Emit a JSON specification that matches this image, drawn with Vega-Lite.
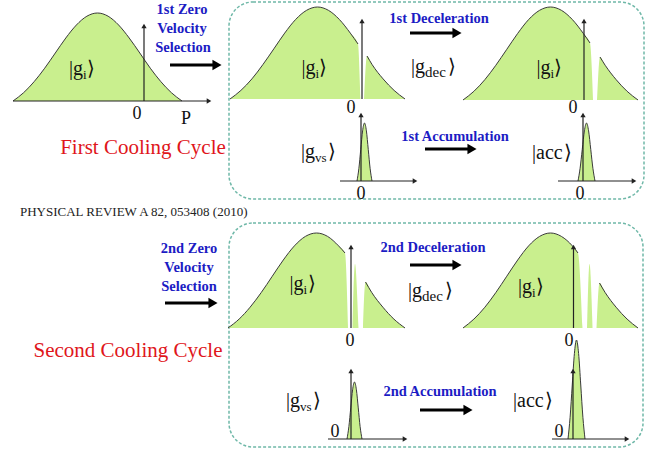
{
  "$schema": "https://vega.github.io/schema/vega-lite/v6.json",
  "width": 660,
  "height": 450,
  "autosize": {"type": "fit", "contains": "padding"},
  "padding": 0,
  "background": "white",
  "config": {"view": {"stroke": null}},
  "datasets": {
    "boxes": [
      {"x": 229, "y": 2, "x2": 644, "y2": 199},
      {"x": 229, "y": 223, "x2": 643, "y2": 447}
    ],
    "curves": [
      {"id": "A", "x": 13, "y": 101, "b": 101, "k": "c"},
      {"id": "A", "x": 23.6, "y": 92.7, "b": 101, "k": "c"},
      {"id": "A", "x": 34.1, "y": 81.7, "b": 101, "k": "c"},
      {"id": "A", "x": 44.7, "y": 68.2, "b": 101, "k": "c"},
      {"id": "A", "x": 55.3, "y": 53, "b": 101, "k": "c"},
      {"id": "A", "x": 65.8, "y": 38, "b": 101, "k": "c"},
      {"id": "A", "x": 76.4, "y": 25, "b": 101, "k": "c"},
      {"id": "A", "x": 86.9, "y": 16.2, "b": 101, "k": "c"},
      {"id": "A", "x": 97.5, "y": 13, "b": 101, "k": "c"},
      {"id": "A", "x": 108.1, "y": 16.2, "b": 101, "k": "c"},
      {"id": "A", "x": 118.6, "y": 25, "b": 101, "k": "c"},
      {"id": "A", "x": 129.2, "y": 38, "b": 101, "k": "c"},
      {"id": "A", "x": 139.8, "y": 53, "b": 101, "k": "c"},
      {"id": "A", "x": 150.3, "y": 68.2, "b": 101, "k": "c"},
      {"id": "A", "x": 160.9, "y": 81.7, "b": 101, "k": "c"},
      {"id": "A", "x": 171.4, "y": 92.7, "b": 101, "k": "c"},
      {"id": "A", "x": 182, "y": 101, "b": 101, "k": "c"},

      {"id": "B1", "x": 230, "y": 99, "b": 99, "k": "c"},
      {"id": "B1", "x": 240.9, "y": 90.4, "b": 99, "k": "c"},
      {"id": "B1", "x": 251.9, "y": 78.9, "b": 99, "k": "c"},
      {"id": "B1", "x": 262.8, "y": 64.7, "b": 99, "k": "c"},
      {"id": "B1", "x": 273.8, "y": 48.9, "b": 99, "k": "c"},
      {"id": "B1", "x": 284.7, "y": 33.1, "b": 99, "k": "c"},
      {"id": "B1", "x": 295.6, "y": 19.5, "b": 99, "k": "c"},
      {"id": "B1", "x": 306.6, "y": 10.3, "b": 99, "k": "c"},
      {"id": "B1", "x": 317.5, "y": 7, "b": 99, "k": "c"},
      {"id": "B1", "x": 328.4, "y": 10.3, "b": 99, "k": "c"},
      {"id": "B1", "x": 339.4, "y": 19.5, "b": 99, "k": "c"},
      {"id": "B1", "x": 350.3, "y": 33.1, "b": 99, "k": "c"},
      {"id": "B1", "x": 358, "y": 44, "b": 99, "k": "c"},
      {"id": "B1", "x": 360.5, "y": 99, "b": 99, "k": "x"},
      {"id": "B2", "x": 364, "y": 99, "b": 99, "k": "x"},
      {"id": "B2", "x": 367, "y": 56, "b": 99, "k": "c"},
      {"id": "B2", "x": 372.2, "y": 64.7, "b": 99, "k": "c"},
      {"id": "B2", "x": 383.1, "y": 78.9, "b": 99, "k": "c"},
      {"id": "B2", "x": 394.1, "y": 90.4, "b": 99, "k": "c"},
      {"id": "B2", "x": 405, "y": 99, "b": 99, "k": "c"},

      {"id": "C1", "x": 463, "y": 100, "b": 100, "k": "c"},
      {"id": "C1", "x": 473.9, "y": 91.3, "b": 100, "k": "c"},
      {"id": "C1", "x": 484.9, "y": 79.6, "b": 100, "k": "c"},
      {"id": "C1", "x": 495.8, "y": 65.3, "b": 100, "k": "c"},
      {"id": "C1", "x": 506.8, "y": 49.3, "b": 100, "k": "c"},
      {"id": "C1", "x": 517.7, "y": 33.4, "b": 100, "k": "c"},
      {"id": "C1", "x": 528.6, "y": 19.6, "b": 100, "k": "c"},
      {"id": "C1", "x": 539.6, "y": 10.3, "b": 100, "k": "c"},
      {"id": "C1", "x": 550.5, "y": 7, "b": 100, "k": "c"},
      {"id": "C1", "x": 561.4, "y": 10.3, "b": 100, "k": "c"},
      {"id": "C1", "x": 572.4, "y": 19.6, "b": 100, "k": "c"},
      {"id": "C1", "x": 583.3, "y": 33.4, "b": 100, "k": "c"},
      {"id": "C1", "x": 590, "y": 43, "b": 100, "k": "c"},
      {"id": "C1", "x": 593, "y": 100, "b": 100, "k": "x"},
      {"id": "C2", "x": 597, "y": 100, "b": 100, "k": "x"},
      {"id": "C2", "x": 600, "y": 57, "b": 100, "k": "c"},
      {"id": "C2", "x": 605.2, "y": 65.3, "b": 100, "k": "c"},
      {"id": "C2", "x": 616.1, "y": 79.6, "b": 100, "k": "c"},
      {"id": "C2", "x": 627.1, "y": 91.3, "b": 100, "k": "c"},
      {"id": "C2", "x": 638, "y": 100, "b": 100, "k": "c"},

      {"id": "D1", "x": 228, "y": 328, "b": 328, "k": "c"},
      {"id": "D1", "x": 239.1, "y": 319.1, "b": 328, "k": "c"},
      {"id": "D1", "x": 250.1, "y": 307.2, "b": 328, "k": "c"},
      {"id": "D1", "x": 261.2, "y": 292.6, "b": 328, "k": "c"},
      {"id": "D1", "x": 272.3, "y": 276.2, "b": 328, "k": "c"},
      {"id": "D1", "x": 283.3, "y": 260, "b": 328, "k": "c"},
      {"id": "D1", "x": 294.4, "y": 245.9, "b": 328, "k": "c"},
      {"id": "D1", "x": 305.4, "y": 236.4, "b": 328, "k": "c"},
      {"id": "D1", "x": 316.5, "y": 233, "b": 328, "k": "c"},
      {"id": "D1", "x": 327.6, "y": 236.4, "b": 328, "k": "c"},
      {"id": "D1", "x": 338.6, "y": 245.9, "b": 328, "k": "c"},
      {"id": "D1", "x": 345, "y": 253, "b": 328, "k": "c"},
      {"id": "D1", "x": 348, "y": 328, "b": 328, "k": "x"},
      {"id": "D2", "x": 352.5, "y": 328, "b": 328, "k": "x"},
      {"id": "D2", "x": 355, "y": 264, "b": 328, "k": "x"},
      {"id": "D2", "x": 358.5, "y": 328, "b": 328, "k": "x"},
      {"id": "D3", "x": 363, "y": 328, "b": 328, "k": "x"},
      {"id": "D3", "x": 365.5, "y": 282, "b": 328, "k": "c"},
      {"id": "D3", "x": 371.8, "y": 292.6, "b": 328, "k": "c"},
      {"id": "D3", "x": 382.9, "y": 307.2, "b": 328, "k": "c"},
      {"id": "D3", "x": 393.9, "y": 319.1, "b": 328, "k": "c"},
      {"id": "D3", "x": 405, "y": 328, "b": 328, "k": "c"},

      {"id": "E1", "x": 463, "y": 328, "b": 328, "k": "c"},
      {"id": "E1", "x": 473.9, "y": 319.1, "b": 328, "k": "c"},
      {"id": "E1", "x": 484.9, "y": 307.2, "b": 328, "k": "c"},
      {"id": "E1", "x": 495.8, "y": 292.6, "b": 328, "k": "c"},
      {"id": "E1", "x": 506.8, "y": 276.2, "b": 328, "k": "c"},
      {"id": "E1", "x": 517.7, "y": 260, "b": 328, "k": "c"},
      {"id": "E1", "x": 528.6, "y": 245.9, "b": 328, "k": "c"},
      {"id": "E1", "x": 539.6, "y": 236.4, "b": 328, "k": "c"},
      {"id": "E1", "x": 550.5, "y": 233, "b": 328, "k": "c"},
      {"id": "E1", "x": 561.4, "y": 236.4, "b": 328, "k": "c"},
      {"id": "E1", "x": 572.4, "y": 245.9, "b": 328, "k": "c"},
      {"id": "E1", "x": 578, "y": 253, "b": 328, "k": "c"},
      {"id": "E1", "x": 582.5, "y": 328, "b": 328, "k": "x"},
      {"id": "E2", "x": 587, "y": 328, "b": 328, "k": "x"},
      {"id": "E2", "x": 589.5, "y": 264, "b": 328, "k": "x"},
      {"id": "E2", "x": 592.5, "y": 328, "b": 328, "k": "x"},
      {"id": "E3", "x": 596.5, "y": 328, "b": 328, "k": "x"},
      {"id": "E3", "x": 599.5, "y": 283, "b": 328, "k": "c"},
      {"id": "E3", "x": 605.2, "y": 292.6, "b": 328, "k": "c"},
      {"id": "E3", "x": 616.1, "y": 307.2, "b": 328, "k": "c"},
      {"id": "E3", "x": 627.1, "y": 319.1, "b": 328, "k": "c"},
      {"id": "E3", "x": 638, "y": 328, "b": 328, "k": "c"},

      {"id": "S1", "x": 357, "y": 181, "b": 181, "k": "c"},
      {"id": "S1", "x": 358.9, "y": 168.3, "b": 181, "k": "c"},
      {"id": "S1", "x": 360.75, "y": 149.4, "b": 181, "k": "c"},
      {"id": "S1", "x": 362.6, "y": 130.9, "b": 181, "k": "c"},
      {"id": "S1", "x": 364.5, "y": 123, "b": 181, "k": "c"},
      {"id": "S1", "x": 366.4, "y": 130.9, "b": 181, "k": "c"},
      {"id": "S1", "x": 368.25, "y": 149.4, "b": 181, "k": "c"},
      {"id": "S1", "x": 370.1, "y": 168.3, "b": 181, "k": "c"},
      {"id": "S1", "x": 372, "y": 181, "b": 181, "k": "c"},

      {"id": "S2", "x": 578, "y": 181, "b": 181, "k": "c"},
      {"id": "S2", "x": 580.1, "y": 168.3, "b": 181, "k": "c"},
      {"id": "S2", "x": 582.25, "y": 149.4, "b": 181, "k": "c"},
      {"id": "S2", "x": 584.4, "y": 130.9, "b": 181, "k": "c"},
      {"id": "S2", "x": 586.5, "y": 123, "b": 181, "k": "c"},
      {"id": "S2", "x": 588.6, "y": 130.9, "b": 181, "k": "c"},
      {"id": "S2", "x": 590.75, "y": 149.4, "b": 181, "k": "c"},
      {"id": "S2", "x": 592.9, "y": 168.3, "b": 181, "k": "c"},
      {"id": "S2", "x": 595, "y": 181, "b": 181, "k": "c"},

      {"id": "S3", "x": 347, "y": 439, "b": 439, "k": "c"},
      {"id": "S3", "x": 348.9, "y": 426.5, "b": 439, "k": "c"},
      {"id": "S3", "x": 350.75, "y": 407.9, "b": 439, "k": "c"},
      {"id": "S3", "x": 352.6, "y": 389.8, "b": 439, "k": "c"},
      {"id": "S3", "x": 354.5, "y": 382, "b": 439, "k": "c"},
      {"id": "S3", "x": 356.4, "y": 389.8, "b": 439, "k": "c"},
      {"id": "S3", "x": 358.25, "y": 407.9, "b": 439, "k": "c"},
      {"id": "S3", "x": 360.1, "y": 426.5, "b": 439, "k": "c"},
      {"id": "S3", "x": 362, "y": 439, "b": 439, "k": "c"},

      {"id": "S4", "x": 568, "y": 439, "b": 439, "k": "c"},
      {"id": "S4", "x": 570.1, "y": 417.3, "b": 439, "k": "c"},
      {"id": "S4", "x": 572.25, "y": 385, "b": 439, "k": "c"},
      {"id": "S4", "x": 574.4, "y": 353.5, "b": 439, "k": "c"},
      {"id": "S4", "x": 576.5, "y": 340, "b": 439, "k": "c"},
      {"id": "S4", "x": 578.6, "y": 353.5, "b": 439, "k": "c"},
      {"id": "S4", "x": 580.75, "y": 385, "b": 439, "k": "c"},
      {"id": "S4", "x": 582.9, "y": 417.3, "b": 439, "k": "c"},
      {"id": "S4", "x": 585, "y": 439, "b": 439, "k": "c"}
    ],
    "axes": [
      {"x": 13, "y": 101, "x2": 209, "y2": 101},
      {"x": 144, "y": 101, "x2": 144, "y2": 26},
      {"x": 362, "y": 99, "x2": 362, "y2": 21},
      {"x": 584, "y": 100, "x2": 584, "y2": 21},
      {"x": 340, "y": 181, "x2": 415, "y2": 181},
      {"x": 361, "y": 181, "x2": 361, "y2": 115},
      {"x": 558, "y": 181, "x2": 634, "y2": 181},
      {"x": 583, "y": 181, "x2": 583, "y2": 115},
      {"x": 351, "y": 328, "x2": 351, "y2": 247},
      {"x": 573.5, "y": 328, "x2": 573.5, "y2": 247},
      {"x": 328, "y": 439, "x2": 405, "y2": 439},
      {"x": 351, "y": 439, "x2": 351, "y2": 371},
      {"x": 552, "y": 439, "x2": 627, "y2": 439},
      {"x": 573, "y": 439, "x2": 573, "y2": 371}
    ],
    "heads": [
      {"x": 209, "y": 101, "d": "right"},
      {"x": 144, "y": 26, "d": "up"},
      {"x": 362, "y": 21, "d": "up"},
      {"x": 584, "y": 21, "d": "up"},
      {"x": 415, "y": 181, "d": "right"},
      {"x": 361, "y": 115, "d": "up"},
      {"x": 634, "y": 181, "d": "right"},
      {"x": 583, "y": 115, "d": "up"},
      {"x": 351, "y": 247, "d": "up"},
      {"x": 573.5, "y": 247, "d": "up"},
      {"x": 405, "y": 439, "d": "right"},
      {"x": 351, "y": 371, "d": "up"},
      {"x": 627, "y": 439, "d": "right"},
      {"x": 573, "y": 371, "d": "up"}
    ],
    "arrows": [
      {"x": 170, "y": 65, "x2": 217},
      {"x": 410, "y": 33, "x2": 457},
      {"x": 425, "y": 149, "x2": 472},
      {"x": 165, "y": 303, "x2": 213},
      {"x": 410, "y": 265, "x2": 457},
      {"x": 420, "y": 410, "x2": 468}
    ],
    "texts": [
      {"s": "blue", "x": 182, "y": 14, "t": "1st Zero"},
      {"s": "blue", "x": 182, "y": 33, "t": "Velocity"},
      {"s": "blue", "x": 183, "y": 52, "t": "Selection"},
      {"s": "blue", "x": 439, "y": 23, "t": "1st Deceleration"},
      {"s": "blue", "x": 455, "y": 141, "t": "1st Accumulation"},
      {"s": "blue", "x": 189, "y": 253, "t": "2nd Zero"},
      {"s": "blue", "x": 189, "y": 272, "t": "Velocity"},
      {"s": "blue", "x": 189, "y": 291, "t": "Selection"},
      {"s": "blue", "x": 433, "y": 252, "t": "2nd Deceleration"},
      {"s": "blue", "x": 440, "y": 396, "t": "2nd Accumulation"},
      {"s": "red", "x": 143, "y": 154, "t": "First Cooling Cycle"},
      {"s": "red", "x": 128, "y": 357, "t": "Second Cooling Cycle"},
      {"s": "ref", "x": 20, "y": 216, "t": "PHYSICAL REVIEW A 82, 053408 (2010)"},
      {"s": "zero", "x": 137, "y": 119, "t": "0"},
      {"s": "zero", "x": 186, "y": 124, "t": "P"},
      {"s": "zero", "x": 351, "y": 113, "t": "0"},
      {"s": "zero", "x": 573, "y": 113, "t": "0"},
      {"s": "zero", "x": 361, "y": 199, "t": "0"},
      {"s": "zero", "x": 580, "y": 199, "t": "0"},
      {"s": "zero", "x": 350, "y": 346, "t": "0"},
      {"s": "zero", "x": 569, "y": 346, "t": "0"},
      {"s": "zero", "x": 335, "y": 437, "t": "0"},
      {"s": "zero", "x": 559, "y": 437, "t": "0"},
      {"s": "kr", "x": 83, "y": 75, "t": "|g"},
      {"s": "sub", "x": 83, "y": 79, "t": "i"},
      {"s": "kl", "x": 87, "y": 75, "t": "⟩"},
      {"s": "kr", "x": 315.5, "y": 74, "t": "|g"},
      {"s": "sub", "x": 315.5, "y": 78, "t": "i"},
      {"s": "kl", "x": 319, "y": 74, "t": "⟩"},
      {"s": "kr", "x": 550.5, "y": 74, "t": "|g"},
      {"s": "sub", "x": 550.5, "y": 78, "t": "i"},
      {"s": "kl", "x": 554, "y": 74, "t": "⟩"},
      {"s": "kr", "x": 425, "y": 73, "t": "|g"},
      {"s": "subL", "x": 425, "y": 77, "t": "dec"},
      {"s": "kl", "x": 448, "y": 73, "t": "⟩"},
      {"s": "kr", "x": 315, "y": 158, "t": "|g"},
      {"s": "sub", "x": 315, "y": 162, "t": "vs"},
      {"s": "kl", "x": 328, "y": 158, "t": "⟩"},
      {"s": "kl", "x": 532, "y": 159, "t": "|acc"},
      {"s": "kl", "x": 564, "y": 159, "t": "⟩"},
      {"s": "kr", "x": 303.5, "y": 290, "t": "|g"},
      {"s": "sub", "x": 303.5, "y": 294, "t": "i"},
      {"s": "kl", "x": 307.5, "y": 290, "t": "⟩"},
      {"s": "kr", "x": 532, "y": 293, "t": "|g"},
      {"s": "sub", "x": 532, "y": 297, "t": "i"},
      {"s": "kl", "x": 536, "y": 293, "t": "⟩"},
      {"s": "kr", "x": 422, "y": 297, "t": "|g"},
      {"s": "subL", "x": 422, "y": 301, "t": "dec"},
      {"s": "kl", "x": 445, "y": 297, "t": "⟩"},
      {"s": "kr", "x": 300, "y": 407, "t": "|g"},
      {"s": "sub", "x": 300, "y": 411, "t": "vs"},
      {"s": "kl", "x": 313, "y": 407, "t": "⟩"},
      {"s": "kl", "x": 513, "y": 407, "t": "|acc"},
      {"s": "kl", "x": 545, "y": 407, "t": "⟩"}
    ]
  },
  "layer": [
    {
      "data": {"name": "boxes"},
      "mark": {"type": "rect", "fill": null, "fillOpacity": 0, "stroke": "#6fb8a8", "strokeWidth": 1.5, "strokeDash": [3, 2], "cornerRadius": 24},
      "encoding": {
        "x": {"field": "x", "type": "quantitative", "scale": {"domain": [0, 660], "nice": false, "zero": false}, "axis": null},
        "x2": {"field": "x2"},
        "y": {"field": "y", "type": "quantitative", "scale": {"domain": [0, 450], "nice": false, "zero": false, "reverse": true}, "axis": null},
        "y2": {"field": "y2"}
      }
    },
    {
      "data": {"name": "curves"},
      "mark": {"type": "area", "color": "#c9ef8e", "interpolate": "monotone"},
      "encoding": {
        "x": {"field": "x", "type": "quantitative", "axis": null},
        "y": {"field": "y", "type": "quantitative", "axis": null, "stack": null},
        "y2": {"field": "b"},
        "detail": {"field": "id"}
      }
    },
    {
      "data": {"name": "curves"},
      "transform": [{"filter": "datum.k == 'c'"}],
      "mark": {"type": "line", "color": "#3a3a3a", "strokeWidth": 1, "interpolate": "monotone"},
      "encoding": {
        "x": {"field": "x", "type": "quantitative", "axis": null},
        "y": {"field": "y", "type": "quantitative", "axis": null},
        "detail": {"field": "id"}
      }
    },
    {
      "data": {"name": "axes"},
      "mark": {"type": "rule", "color": "#222222", "strokeWidth": 1.2},
      "encoding": {
        "x": {"field": "x", "type": "quantitative", "axis": null},
        "x2": {"field": "x2"},
        "y": {"field": "y", "type": "quantitative", "axis": null},
        "y2": {"field": "y2"}
      }
    },
    {
      "data": {"name": "heads"},
      "mark": {"type": "point", "filled": true, "color": "#222222", "opacity": 1, "size": 28},
      "encoding": {
        "x": {"field": "x", "type": "quantitative", "axis": null},
        "y": {"field": "y", "type": "quantitative", "axis": null},
        "shape": {"field": "d", "type": "nominal", "scale": {"domain": ["up", "right"], "range": ["triangle-up", "triangle-right"]}, "legend": null}
      }
    },
    {
      "data": {"name": "arrows"},
      "mark": {"type": "rule", "color": "#000000", "strokeWidth": 3.2},
      "encoding": {
        "x": {"field": "x", "type": "quantitative", "axis": null},
        "x2": {"field": "x2"},
        "y": {"field": "y", "type": "quantitative", "axis": null}
      }
    },
    {
      "data": {"name": "arrows"},
      "mark": {"type": "point", "filled": true, "color": "#000000", "opacity": 1, "size": 110, "shape": "triangle-right"},
      "encoding": {
        "x": {"field": "x2", "type": "quantitative", "axis": null},
        "y": {"field": "y", "type": "quantitative", "axis": null}
      }
    },
    {
      "data": {"name": "texts"},
      "transform": [{"filter": "datum.s == 'blue'"}],
      "mark": {"type": "text", "font": "Liberation Serif", "fontWeight": "bold", "fontSize": 14.5, "color": "#1c1cc4", "align": "center", "baseline": "alphabetic"},
      "encoding": {
        "x": {"field": "x", "type": "quantitative", "axis": null},
        "y": {"field": "y", "type": "quantitative", "axis": null},
        "text": {"field": "t"}
      }
    },
    {
      "data": {"name": "texts"},
      "transform": [{"filter": "datum.s == 'red'"}],
      "mark": {"type": "text", "font": "Liberation Serif", "fontSize": 21, "color": "#e0161b", "align": "center", "baseline": "alphabetic"},
      "encoding": {
        "x": {"field": "x", "type": "quantitative", "axis": null},
        "y": {"field": "y", "type": "quantitative", "axis": null},
        "text": {"field": "t"}
      }
    },
    {
      "data": {"name": "texts"},
      "transform": [{"filter": "datum.s == 'ref'"}],
      "mark": {"type": "text", "font": "Liberation Serif", "fontSize": 13, "color": "#222222", "align": "left", "baseline": "alphabetic"},
      "encoding": {
        "x": {"field": "x", "type": "quantitative", "axis": null},
        "y": {"field": "y", "type": "quantitative", "axis": null},
        "text": {"field": "t"}
      }
    },
    {
      "data": {"name": "texts"},
      "transform": [{"filter": "datum.s == 'zero'"}],
      "mark": {"type": "text", "font": "Liberation Serif", "fontSize": 18, "color": "#111111", "align": "center", "baseline": "alphabetic"},
      "encoding": {
        "x": {"field": "x", "type": "quantitative", "axis": null},
        "y": {"field": "y", "type": "quantitative", "axis": null},
        "text": {"field": "t"}
      }
    },
    {
      "data": {"name": "texts"},
      "transform": [{"filter": "datum.s == 'kr'"}],
      "mark": {"type": "text", "font": "Liberation Serif", "fontSize": 20, "color": "#111111", "align": "right", "baseline": "alphabetic"},
      "encoding": {
        "x": {"field": "x", "type": "quantitative", "axis": null},
        "y": {"field": "y", "type": "quantitative", "axis": null},
        "text": {"field": "t"}
      }
    },
    {
      "data": {"name": "texts"},
      "transform": [{"filter": "datum.s == 'kl'"}],
      "mark": {"type": "text", "font": "Liberation Serif", "fontSize": 20, "color": "#111111", "align": "left", "baseline": "alphabetic"},
      "encoding": {
        "x": {"field": "x", "type": "quantitative", "axis": null},
        "y": {"field": "y", "type": "quantitative", "axis": null},
        "text": {"field": "t"}
      }
    },
    {
      "data": {"name": "texts"},
      "transform": [{"filter": "datum.s == 'sub'"}],
      "mark": {"type": "text", "font": "Liberation Serif", "fontSize": 13, "color": "#111111", "align": "left", "baseline": "alphabetic"},
      "encoding": {
        "x": {"field": "x", "type": "quantitative", "axis": null},
        "y": {"field": "y", "type": "quantitative", "axis": null},
        "text": {"field": "t"}
      }
    },
    {
      "data": {"name": "texts"},
      "transform": [{"filter": "datum.s == 'subL'"}],
      "mark": {"type": "text", "font": "Liberation Serif", "fontSize": 15, "color": "#111111", "align": "left", "baseline": "alphabetic"},
      "encoding": {
        "x": {"field": "x", "type": "quantitative", "axis": null},
        "y": {"field": "y", "type": "quantitative", "axis": null},
        "text": {"field": "t"}
      }
    }
  ]
}
